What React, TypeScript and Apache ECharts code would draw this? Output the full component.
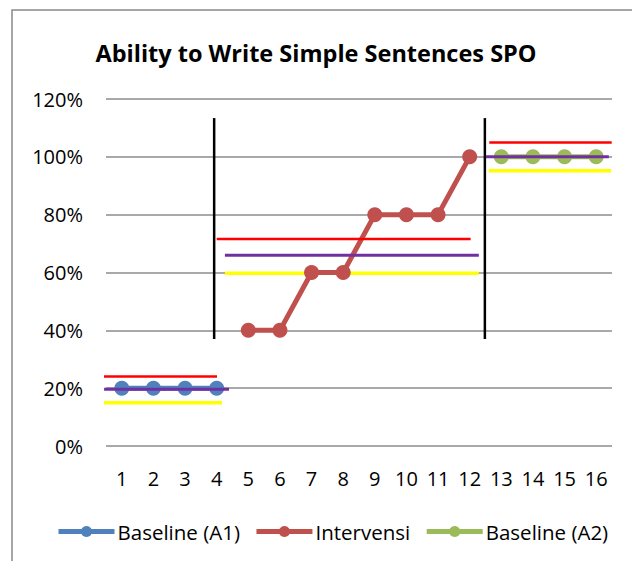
import React, { useEffect, useRef } from "react";
import * as echarts from "echarts";

const categories = ["1", "2", "3", "4", "5", "6", "7", "8", "9", "10", "11", "12", "13", "14", "15", "16"];
const baselineA1 = [20, 20, 20, 20, "-", "-", "-", "-", "-", "-", "-", "-", "-", "-", "-", "-"];
const intervensi = ["-", "-", "-", "-", 40, 40, 60, 60, 80, 80, 80, 100, "-", "-", "-", "-"];
const baselineA2 = ["-", "-", "-", "-", "-", "-", "-", "-", "-", "-", "-", "-", 100, 100, 100, 100];
const yTicks = [0, 20, 40, 60, 80, 100, 120];

// trend levels per phase (A1, B, A2), in percent
const redLevels = [24, 71.6, 105];
const purpleLevels = [19.6, 66, 100];
const yellowLevels = [15, 59.7, 95.2];
// horizontal extents of each phase line, in session units
const redSpans = [[0.31, 4.01], [4.0, 12.03], [12.62, 16.49]];
const purpleSpans = [[0.44, 4.39], [4.26, 12.29], [12.52, 16.4]];
const yellowSpans = [[0.22, 4.17], [4.26, 12.29], [12.6, 16.47]];
// phase change lines
const phaseDividers = [3.92, 12.48];
const dividerRange = [37, 113.4];

const FONT = "'Open Sans', 'Noto Sans', sans-serif";

function trendSeries(name: string, levels: number[], spans: number[][], color: string, width: number, z: number) {
  return levels.map((lv, i) => ({
    name: name + i,
    type: "line",
    xAxisIndex: 1,
    data: [[spans[i][0], lv], [spans[i][1], lv]],
    showSymbol: false,
    symbol: "none",
    clip: false,
    silent: true,
    z,
    lineStyle: { color, width, type: "solid" },
  }));
}

export default function App() {
  const ref = useRef<HTMLDivElement>(null);
  useEffect(() => {
    if (!ref.current) return;
    const chart = echarts.init(ref.current, undefined, { renderer: "svg" });
    const dividers = phaseDividers.map((x, i) => ({
      name: "div" + i,
      type: "line",
      xAxisIndex: 1,
      data: [[x, dividerRange[0]], [x, dividerRange[1]]],
      showSymbol: false,
      symbol: "none",
      clip: false,
      silent: true,
      z: 5,
      lineStyle: { color: "#000000", width: 2.5 },
    }));
    const mainSeries = (name: string, data: any[], color: string) => ({
      name,
      type: "line",
      data,
      symbol: "circle",
      symbolSize: 15,
      z: 3,
      itemStyle: { color },
      lineStyle: { color, width: 5 },
      connectNulls: false,
    });
    chart.setOption({
      animation: false,
      backgroundColor: "#ffffff",
      title: {
        text: "Ability to Write Simple Sentences SPO",
        left: "center",
        top: 36,
        textStyle: { fontFamily: FONT, fontSize: 23.5, fontWeight: "bold", color: "#000000" },
      },
      graphic: [
        {
          type: "text",
          left: 264,
          top: -22,
          style: { text: "SPO", fontFamily: FONT, fontSize: 22, fontWeight: "bold", fill: "#000000" },
        },
        {
          type: "rect",
          shape: { x: 12, y: 10, width: 700, height: 700 },
          style: { fill: "none", stroke: "#898989", lineWidth: 1.5 },
          silent: true,
        },
      ],
      legend: {
        data: ["Baseline (A1)", "Intervensi", "Baseline (A2)"],
        left: 56,
        top: 521,
        padding: 0,
        itemWidth: 56,
        itemHeight: 14,
        itemGap: 14,
        lineStyle: { width: 5 },
        textStyle: { fontFamily: FONT, fontSize: 20.5, color: "#000000", padding: [0, 0, 0, -2] },
      },
      grid: { left: 106, right: 20, top: 99, bottom: 115, containLabel: false },
      xAxis: [
        {
          type: "category",
          data: categories,
          boundaryGap: true,
          axisLine: { show: false },
          axisTick: { show: false },
          axisLabel: { fontFamily: FONT, fontSize: 20, color: "#000000", margin: 22 },
        },
        { type: "value", min: 0.5, max: 16.5, show: false },
      ],
      yAxis: {
        type: "value",
        min: yTicks[0],
        max: yTicks[yTicks.length - 1],
        interval: 20,
        axisLine: { show: false },
        axisTick: { show: false },
        axisLabel: { fontFamily: FONT, fontSize: 20, color: "#000000", margin: 23, formatter: "{value}%" },
        splitLine: { lineStyle: { color: "#8c8c8c", width: 1.5 } },
      },
      series: [
        mainSeries("Baseline (A1)", baselineA1, "#4f81bd"),
        mainSeries("Intervensi", intervensi, "#c0504d"),
        mainSeries("Baseline (A2)", baselineA2, "#9bbb59"),
        ...trendSeries("red", redLevels, redSpans, "#ff0000", 2.5, 4),
        ...trendSeries("purple", purpleLevels, purpleSpans, "#7030a0", 3, 4),
        ...trendSeries("yellow", yellowLevels, yellowSpans, "#ffff00", 3.5, 2),
        ...dividers,
      ],
    });
    return () => chart.dispose();
  }, []);
  return (
    <div
      ref={ref}
      style={{ position: "absolute", left: 0, top: 0, width: 632, height: 561 }}
    />
  );
}
